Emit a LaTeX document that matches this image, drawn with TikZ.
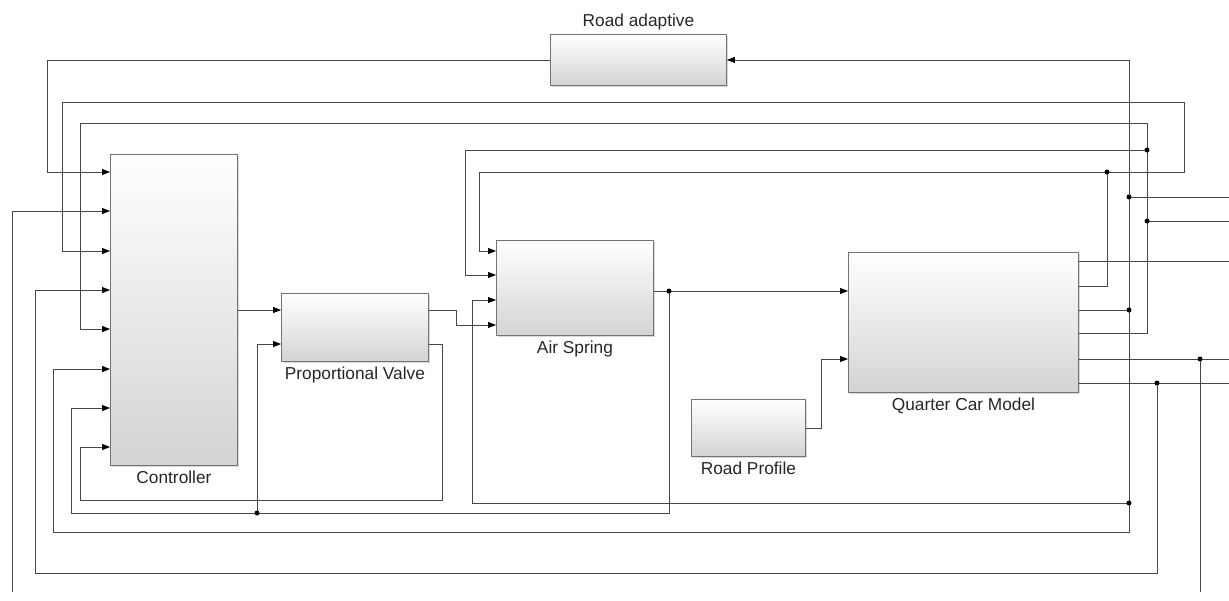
\documentclass[tikz,border=0pt]{standalone}
\usepackage{fontspec}
\setmainfont{Liberation Sans}
\usetikzlibrary{positioning, arrows.meta, shadows}

\tikzset{
  block/.style={draw=black!55, line width=0.9pt, anchor=north west, inner sep=0pt,
    top color=white, middle color=black!2, bottom color=black!17,
    drop shadow={shadow xshift=1.2pt, shadow yshift=-1.2pt, opacity=0.3}},
  title/.style={font=\fontsize{17.3}{20}\selectfont, text=black!85, inner sep=0pt},
  sig/.style={draw=black!72, line width=0.8pt},
  sigarr/.style={sig, -{Triangle[length=8pt,width=6pt,color=black]}}
}

\begin{document}
\begin{tikzpicture}[x=1pt, y=-1pt]
\useasboundingbox (0,0) rectangle (1229,600);
% blocks
\node[block, minimum width=176pt, minimum height=51pt] (ra) at (550,34) {};
\node[block, minimum width=127pt, minimum height=311pt] (ctrl) at (110,154) {};
\node[block, minimum width=147pt, minimum height=68pt] (pv) at (281,293) {};
\node[block, minimum width=157pt, minimum height=95pt] (as) at (496,240) {};
\node[block, minimum width=114pt, minimum height=57pt] (rp) at (691,399) {};
\node[block, minimum width=230pt, minimum height=140pt] (qcm) at (848,252) {};
\node[title, above=3.5pt of ra] (ra-t) {Road adaptive};
\node[title, below=5pt of ctrl] (ctrl-t) {Controller};
\node[title, below=5pt of pv] (pv-t) {Proportional Valve};
\node[title, below=5pt of as] (as-t) {Air Spring};
\node[title, below=5pt of rp] (rp-t) {Road Profile};
\node[title, below=5pt of qcm] (qcm-t) {Quarter Car Model};
% junctions and free ends
\coordinate (j2) at (1107,172);
\coordinate (j3) at (1129,310);
\coordinate (j3u) at (1129,197);
\coordinate (j3d) at (1129,503);
\coordinate (j4u) at (1147,221);
\coordinate (j4v) at (1147,150);
\coordinate (j5) at (1200,359);
\coordinate (j6) at (1157,383);
\coordinate (jas) at (669,291);
\coordinate (jpv) at (257,513);
\coordinate (o1) at (1229,197);
\coordinate (o2) at (1229,221);
\coordinate (o3) at (1229,261);
\coordinate (o4) at (1229,359);
\coordinate (o5) at (1229,383);
\coordinate (b1) at (12,592);
\coordinate (b2) at (1200,592);
% signals
\draw[sigarr] (ra.west) -| (47,172) -- (ctrl.west |- 0,172);
\draw[sigarr] (b1) |- (ctrl.west |- 0,211);
\draw[sig] (qcm.east |- 0,286) -| (j2);
\draw[sigarr] (j2) -| (479,251) -- (as.west |- 0,251);
\draw[sigarr] (j2) -| (1184,102) -| (62,251) -- (ctrl.west |- 0,251);
\draw[sigarr] (j6) |- (35,573) |- (ctrl.west |- 0,290);
\draw[sig] (qcm.east |- 0,333) -| (j4u) -- (j4v);
\draw[sig] (j4u) -- (o2);
\draw[sigarr] (j4v) -| (465,275) -- (as.west |- 0,275);
\draw[sigarr] (j4v) |- (80,123) |- (ctrl.west |- 0,329);
\draw[sig] (qcm.east |- 0,310) -- (j3) -- (j3u) -- (o1);
\draw[sigarr] (j3u) |- (ra.east);
\draw[sig] (j3) -- (j3d);
\draw[sigarr] (j3d) -| (472,300) -- (as.west |- 0,300);
\draw[sigarr] (j3d) |- (53,532) |- (ctrl.west |- 0,369);
\draw[sigarr] (as.east |- 0,291) -- (qcm.west |- 0,291);
\draw[sig] (jas) |- (jpv);
\draw[sigarr] (jpv) -| (71,408) -- (ctrl.west |- 0,408);
\draw[sigarr] (jpv) |- (pv.west |- 0,344);
\draw[sigarr] (pv.east |- 0,344) -| (442,500) -| (80,447) -- (ctrl.west |- 0,447);
\draw[sigarr] (ctrl.east |- 0,310) -- (pv.west |- 0,310);
\draw[sigarr] (pv.east |- 0,310) -| (456,325) -- (as.west |- 0,325);
\draw[sigarr] (rp.east) -| (821,359) -- (qcm.west |- 0,359);
\draw[sig] (qcm.east |- 0,261) -- (o3);
\draw[sig] (qcm.east |- 0,359) -- (o4);
\draw[sig] (j5) -- (b2);
\draw[sig] (qcm.east |- 0,383) -- (o5);
\foreach \p in {j2,j3,j3u,j3d,j4u,j4v,j5,j6,jas,jpv}
  \fill (\p) circle (2.5pt);
\end{tikzpicture}
\end{document}
